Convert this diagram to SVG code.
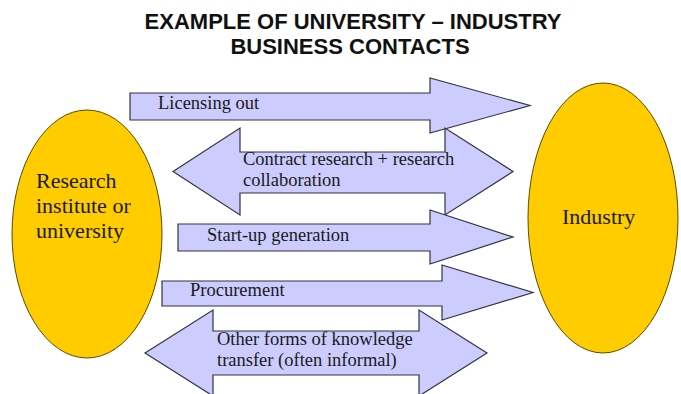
<svg xmlns="http://www.w3.org/2000/svg" width="681" height="394" viewBox="0 0 681 394">
<style>
.title{font-family:"Liberation Sans",Arial,sans-serif;font-weight:bold;font-size:22px;fill:#111;text-anchor:middle}
.node{fill:#FFCC00;stroke:#5c4a00;stroke-width:1}
.nlabel{font-family:"Liberation Serif","Times New Roman",serif;font-size:22px;fill:#1a1a1a}
.arrow{fill:#CCCCFF;stroke:#333340;stroke-width:1.2;stroke-linejoin:miter}
.alabel{font-family:"Liberation Serif","Times New Roman",serif;font-size:18.5px;fill:#1a1a1a}
</style>
<rect width="681" height="394" fill="#ffffff"/>
<g id="title">
<text class="title" x="353" y="29">EXAMPLE OF UNIVERSITY – INDUSTRY</text>
<text class="title" x="350" y="54">BUSINESS CONTACTS</text>
</g>
<g id="university">
<ellipse class="node" cx="87" cy="234" rx="75" ry="124"/>
<text class="nlabel" x="36" y="188">Research</text>
<text class="nlabel" x="36" y="213">institute or</text>
<text class="nlabel" x="36" y="238">university</text>
</g>
<g id="industry">
<ellipse class="node" cx="603" cy="218" rx="75" ry="135"/>
<text class="nlabel" x="562" y="224">Industry</text>
</g>
<g id="connectors">
<g id="licensing">
<polygon class="arrow" points="130,93 430,93 430,78 530,105.5 430,133 430,120 130,120"/>
<text class="alabel" x="158" y="109">Licensing out</text>
</g>
<g id="contract">
<polygon class="arrow" points="173,171.5 240,128 240,152 445,152 445,128 513,171.5 445,215 445,193 240,193 240,215"/>
<text class="alabel" x="243" y="165">Contract research + research</text>
<text class="alabel" x="243" y="186">collaboration</text>
</g>
<g id="startup">
<polygon class="arrow" points="178,224 430,224 430,210 513,237 430,264 430,251 178,251"/>
<text class="alabel" x="207" y="241">Start-up generation</text>
</g>
<g id="procurement">
<polygon class="arrow" points="162,281 442,281 442,265 533,292.5 442,320 442,306 162,306"/>
<text class="alabel" x="190" y="296">Procurement</text>
</g>
<g id="other">
<polygon class="arrow" points="145,353 213,310 213,331 419,331 419,310 487,353 419,396 419,375 213,375 213,396"/>
<text class="alabel" x="217" y="345">Other forms of knowledge</text>
<text class="alabel" x="217" y="366">transfer (often informal)</text>
</g>
</g>
</svg>
